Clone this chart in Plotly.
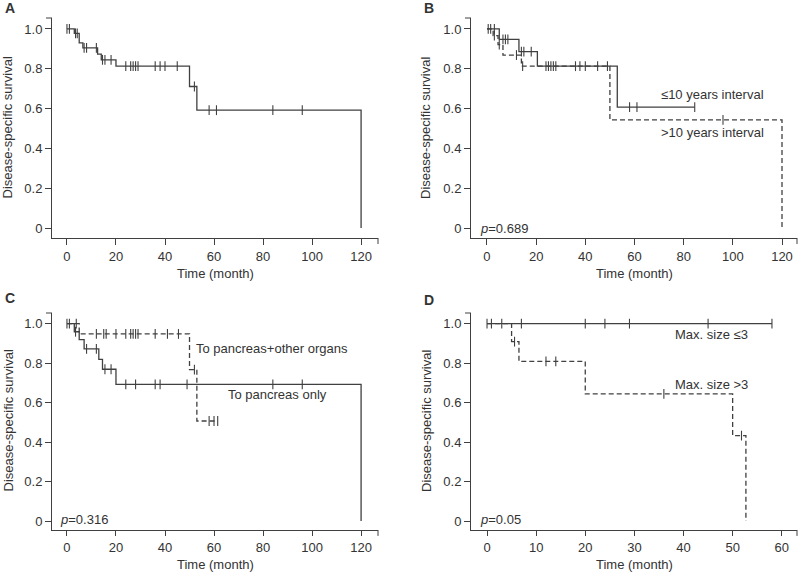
import plotly.graph_objects as go

# ---------------- data ----------------
# Panel A: overall
A_event_t = [3, 5, 6.5, 12.5, 14, 20, 50, 53, 120]
A_event_s = [0.978, 0.93, 0.905, 0.874, 0.845, 0.813, 0.711, 0.592, 0.0]
A_censor = [0, 1, 3.5, 4.2, 7, 8, 12, 14.5, 15.5, 18, 24, 26, 27, 28, 29,
            36, 38, 40, 45, 52, 58, 61, 84, 96]
A_end = 120

# Panel B: <=10 years interval (solid), >10 years interval (dashed)
B1_event_t = [5, 13, 20.5, 53]
B1_event_s = [0.948, 0.886, 0.813, 0.607]
B1_censor = [0.5, 1.5, 3, 6.5, 7.5, 8.5, 14, 15, 18, 24, 26, 28, 36, 40, 58, 61, 84.5]
B1_end = 84.5
B2_event_t = [2.5, 4.5, 6.5, 14, 50, 120]
B2_event_s = [0.966, 0.921, 0.869, 0.813, 0.543, 0.0]
B2_censor = [3, 5, 12, 14.5, 25, 27, 37.8, 45, 49, 96]
B2_end = 120

# Panel C: to pancreas only (solid), to pancreas + other organs (dashed)
C1_event_t = [3, 5, 7, 13, 14.5, 20, 120]
C1_event_s = [0.959, 0.919, 0.872, 0.819, 0.769, 0.693, 0.0]
C1_censor = [0, 1, 3.5, 8, 12, 15.5, 18, 24, 28, 36, 38, 49, 84, 96]
C1_end = 120
C2_event_t = [5, 50, 53]
C2_event_s = [0.948, 0.767, 0.507]
C2_censor = [3.8, 12, 15, 16, 20, 24, 26, 27, 28, 29, 36, 41, 45.5, 52, 58, 60, 61.5]
C2_end = 61.5

# Panel D: max size <=3 (solid), max size >3 (dashed)
D1_event_t = []
D1_event_s = []
D1_censor = [0, 0.9, 3, 7, 20, 24, 29, 45, 58]
D1_end = 58
D2_event_t = [5, 6.5, 20, 50, 52.7]
D2_event_s = [0.909, 0.809, 0.644, 0.433, 0.0]
D2_censor = [5.6, 12, 14, 36, 51.8]
D2_end = 52.7

x_ticks_120 = [0, 20, 40, 60, 80, 100, 120]
x_ticks_60 = [0, 10, 20, 30, 40, 50, 60]
y_ticks = [0, 0.2, 0.4, 0.6, 0.8, 1.0]
y_tick_text = ["0", "0.2", "0.4", "0.6", "0.8", "1.0"]

# ---------------- styling ----------------
W, H = 798, 575
LINE = "#404040"
TXT = "#333333"
FONT = "Liberation Sans, Arial, sans-serif"
DASH = "5px,3px"


def step_xy(ev_t, ev_s, end):
    xs, ys = [0], [1.0]
    for t, s in zip(ev_t, ev_s):
        xs.append(t)
        ys.append(s)
    if xs[-1] < end:
        xs.append(end)
        ys.append(ys[-1])
    return xs, ys


def surv_at(t, ev_t, ev_s):
    s = 1.0
    for et, es in zip(ev_t, ev_s):
        if t >= et:
            s = es
    return s


fig = go.Figure()

panels = [
    ("", [(A_event_t, A_event_s, A_censor, A_end, None)]),
    ("2", [(B2_event_t, B2_event_s, B2_censor, B2_end, DASH),
           (B1_event_t, B1_event_s, B1_censor, B1_end, None)]),
    ("3", [(C2_event_t, C2_event_s, C2_censor, C2_end, DASH),
           (C1_event_t, C1_event_s, C1_censor, C1_end, None)]),
    ("4", [(D2_event_t, D2_event_s, D2_censor, D2_end, DASH),
           (D1_event_t, D1_event_s, D1_censor, D1_end, None)]),
]

for suf, curves in panels:
    for ev_t, ev_s, cens, end, dash in curves:
        xs, ys = step_xy(ev_t, ev_s, end)
        fig.add_trace(go.Scatter(
            x=xs, y=ys, mode="lines", line_shape="hv",
            line=dict(color=LINE, width=1.3, dash=dash if dash else "solid"),
            xaxis="x" + suf, yaxis="y" + suf, showlegend=False, hoverinfo="skip"))
        fig.add_trace(go.Scatter(
            x=cens, y=[surv_at(c, ev_t, ev_s) for c in cens], mode="markers",
            marker=dict(symbol="line-ns", size=7, line=dict(color=LINE, width=1.1)),
            xaxis="x" + suf, yaxis="y" + suf, showlegend=False, hoverinfo="skip"))

# domains in pixels
xl = [52 / W, 378 / W]
xr = [471 / W, 797 / W]
yt = [1 - 238 / H, 1 - 18 / H]
yb = [1 - 530 / H, 1 - 313 / H]

common_x = dict(showline=True, linecolor=LINE, linewidth=1, ticks="outside",
                tickcolor=LINE, showgrid=False, zeroline=False,
                ticklabeloverflow="allow",
                tickfont=dict(size=13, color=TXT, family=FONT))
common_y = dict(showline=True, linecolor=LINE, linewidth=1, ticks="outside",
                ticklen=6, tickcolor=LINE, showgrid=False, zeroline=False,
                tickvals=y_ticks, ticktext=y_tick_text,
                tickfont=dict(size=13, color=TXT, family=FONT))

fig.update_layout(
    width=W, height=H, margin=dict(l=0, r=0, t=0, b=0),
    paper_bgcolor="white", plot_bgcolor="white",
    font=dict(family=FONT, size=13, color=TXT),
    xaxis=dict(domain=xl, anchor="y", range=[-6.1, 126.9], tickvals=x_ticks_120, ticklen=6, **common_x),
    yaxis=dict(domain=yt, anchor="x", range=[-0.05, 1.055], **common_y),
    xaxis2=dict(domain=xr, anchor="y2", range=[-6.5, 126.1], tickvals=x_ticks_120, ticklen=6, **common_x),
    yaxis2=dict(domain=yt, anchor="x2", range=[-0.05, 1.055], **common_y),
    xaxis3=dict(domain=xl, anchor="y3", range=[-6.1, 126.9], tickvals=x_ticks_120, ticklen=5, **common_x),
    yaxis3=dict(domain=yb, anchor="x3", range=[-0.045, 1.054], **common_y),
    xaxis4=dict(domain=xr, anchor="y4", range=[-3.26, 63.1], tickvals=x_ticks_60, ticklen=5, **common_x),
    yaxis4=dict(domain=yb, anchor="x4", range=[-0.045, 1.054], **common_y),
)

ann = []
# panel letters
for lbl, px, py in [("A", 3, 8), ("B", 422, 8), ("C", 3, 298), ("D", 422, 300)]:
    ann.append(dict(text="<b>%s</b>" % lbl, x=px / W, y=1 - py / H, xref="paper", yref="paper",
                    xanchor="left", yanchor="middle", showarrow=False,
                    font=dict(size=14, color=TXT, family=FONT)))
# axis titles
for px, py in [(215, 273), (634, 273), (215, 564), (634, 564)]:
    ann.append(dict(text="Time (month)", x=px / W, y=1 - py / H, xref="paper", yref="paper",
                    xanchor="center", yanchor="middle", showarrow=False,
                    font=dict(size=13, color=TXT, family=FONT)))
for px, py in [(7.5, 128), (426, 128), (7.5, 421), (426, 421)]:
    ann.append(dict(text="Disease-specific survival", x=px / W, y=1 - py / H,
                    xref="paper", yref="paper", textangle=-90,
                    xanchor="center", yanchor="middle", showarrow=False,
                    font=dict(size=13, color=TXT, family=FONT)))
# curve labels and p values
labels = [
    ("≤10 years interval", 70, 0.673, "x2", "y2"),
    ("&gt;10 years interval", 70, 0.482, "x2", "y2"),
    ("<i>p</i>=0.689", -3.8, 0.0, "x2", "y2"),
    ("To pancreas+other organs", 51.8, 0.872, "x3", "y3"),
    ("To pancreas only", 64.8, 0.639, "x3", "y3"),
    ("<i>p</i>=0.316", -3.8, 0.01, "x3", "y3"),
    ("Max. size ≤3", 37.8, 0.946, "x4", "y4"),
    ("Max. size &gt;3", 37.8, 0.693, "x4", "y4"),
    ("<i>p</i>=0.05", -1.9, 0.01, "x4", "y4"),
]
for txt, x, y, xr_, yr_ in labels:
    ann.append(dict(text=txt, x=x, y=y, xref=xr_, yref=yr_, xanchor="left",
                    yanchor="middle", showarrow=False,
                    font=dict(size=13, color=TXT, family=FONT)))
fig.update_layout(annotations=ann)

# end ticks of the axes (SPSS style)
shapes = []
for suf in ["", "2", "3", "4"]:
    xd = "x%s domain" % suf
    yd = "y%s domain" % suf
    shapes.append(dict(type="line", xref=xd, yref=yd, x0=1, x1=1, y0=0, y1=-6 / 220,
                       line=dict(color=LINE, width=1)))
    shapes.append(dict(type="line", xref=xd, yref=yd, x0=0, x1=-6 / 326, y0=1, y1=1,
                       line=dict(color=LINE, width=1)))
fig.update_layout(shapes=shapes)

fig.write_html("out.html", config={"displayModeBar": False},
               post_script="document.body.style.margin='0px';")
